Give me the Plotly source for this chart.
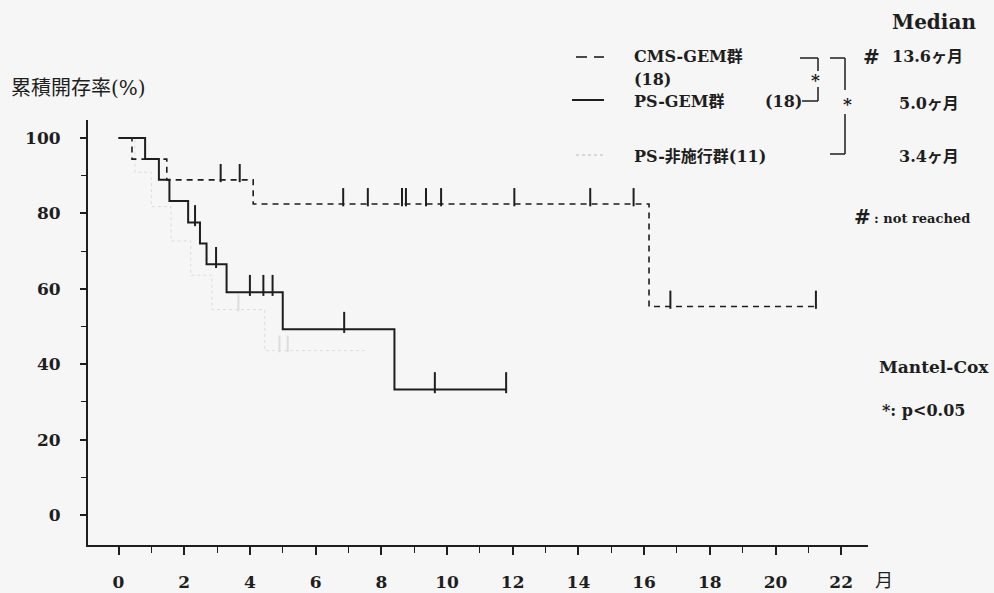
import plotly.graph_objects as go

# ---------------- data ----------------
# CMS-GEM群 (dashed)
cms_t = [0, 0.41, 1.47, 4.1, 16.15, 21.23]
cms_s = [100, 94.4, 88.9, 82.5, 55.3, 55.3]
cms_cens = [3.11, 3.69, 6.84, 7.59, 8.63, 8.75, 9.36, 9.82, 12.05, 14.36, 15.68, 16.8, 21.23]

# PS-GEM群 (solid)
psg_t = [0, 0.81, 1.23, 1.55, 2.12, 2.48, 2.68, 3.29, 5.0, 8.4, 11.8]
psg_s = [100, 94.4, 88.9, 83.3, 77.6, 72.0, 66.5, 59.1, 49.3, 33.3, 33.3]
psg_cens = [2.33, 2.97, 4.0, 4.41, 4.69, 6.87, 9.63, 11.8]

# PS-非施行群 (dotted, very faint)
psn_t = [0, 0.5, 1.0, 1.6, 2.2, 2.84, 4.45, 7.56]
psn_s = [100, 90.9, 81.8, 72.7, 63.6, 54.5, 43.6, 43.6]
psn_cens = [3.65, 4.9, 5.15]

x_ticks = [0, 2, 4, 6, 8, 10, 12, 14, 16, 18, 20, 22]
y_ticks = [0, 20, 40, 60, 80, 100]

W, H = 994, 593
INK = "#1e1e1e"
FONT = "DejaVu Serif, Noto Sans CJK JP, serif"


def step_value(ts, ss, t):
    v = ss[0]
    for ti, si in zip(ts, ss):
        if ti <= t:
            v = si
    return v


fig = go.Figure()


def add_curve(ts, ss, cens, dash, width, color, cens_size):
    fig.add_trace(go.Scatter(x=ts, y=ss, mode="lines", line_shape="hv",
                             line=dict(color=color, width=width, dash=dash),
                             hoverinfo="skip", showlegend=False))
    cy = [step_value(ts, ss, c) + 1.8 for c in cens]
    fig.add_trace(go.Scatter(x=cens, y=cy, mode="markers",
                             marker=dict(symbol="line-ns", size=cens_size,
                                         line=dict(color=color, width=2)),
                             hoverinfo="skip", showlegend=False))


add_curve(psn_t, psn_s, psn_cens, "dot", 1, "#dcdcdc", 12)
add_curve(cms_t, cms_s, cms_cens, "6px,5px", 1.6, INK, 13)
add_curve(psg_t, psg_s, psg_cens, "solid", 2, INK, 15)

# axis geometry (pixels -> paper)
x0px, xs = 118.5, 32.85
y100px, ys = 138.0, 3.77
ax_left, ax_right, ax_bottom, ax_top = 88, 868, 545, 120

xr = [(ax_left - x0px) / xs, (ax_right - x0px) / xs]
yr = [100 - (ax_bottom - y100px) / ys, 100 + (y100px - ax_top) / ys]

tickfont = dict(size=17, family=FONT, color=INK, weight="bold")

fig.update_layout(
    width=W, height=H,
    margin=dict(l=0, r=0, t=0, b=0),
    paper_bgcolor="#f6f6f6", plot_bgcolor="#f6f6f6",
    font=dict(family=FONT, color=INK),
    xaxis=dict(domain=[ax_left / W, ax_right / W], range=xr,
               showgrid=False, zeroline=False, showline=True,
               linecolor=INK, linewidth=2,
               tickvals=x_ticks, ticktext=[str(v) for v in x_ticks],
               ticks="outside", ticklen=8, tickwidth=1.5, tickcolor=INK,
               minor=dict(dtick=1, ticks="outside", ticklen=6, tickwidth=1.2,
                          tickcolor=INK, showgrid=False),
               ticklabelstandoff=13,
               tickfont=tickfont),
    yaxis=dict(domain=[1 - ax_bottom / H, 1 - ax_top / H], range=yr,
               showgrid=False, zeroline=False, showline=True,
               linecolor=INK, linewidth=2,
               tickvals=y_ticks, ticktext=[str(v) for v in y_ticks],
               ticks="outside", ticklen=6, tickwidth=1.5, tickcolor=INK,
               minor=dict(dtick=10, ticks="outside", ticklen=5, tickwidth=1.2,
                          tickcolor=INK, showgrid=False),
               ticklabelstandoff=16,
               tickfont=tickfont),
)


def px(x):
    return x / W


def py(y):
    return 1 - y / H


def text(x, y, s, size=16, anchor="left", bold=True):
    fig.add_annotation(x=px(x), y=py(y), xref="paper", yref="paper", text=s,
                       showarrow=False, xanchor=anchor, yanchor="middle",
                       font=dict(size=size, family=FONT, color=INK,
                                 weight="bold" if bold else "normal"))


def seg(x1, y1, x2, y2, width=1.5, dash="solid", color=INK):
    fig.add_shape(type="line", xref="paper", yref="paper",
                  x0=px(x1), y0=py(y1), x1=px(x2), y1=py(y2),
                  line=dict(color=color, width=width, dash=dash))


# titles
text(9, 88, "累積開存率(%)", 20, bold=False)
text(884, 580, "月", 18, "center", bold=False)

# legend
seg(576, 57, 587, 57, 1.6)
seg(594, 57, 604, 57, 1.6)
text(632, 56, "CMS-GEM群", 16)
text(632, 79, "(18)", 16)
seg(572, 100, 604, 100, 2)
text(632, 101, "PS-GEM群", 16)
text(763, 101, "(18)", 16)
seg(802, 101, 818, 101)

# brackets
seg(800, 58, 818, 58)
seg(818, 58, 818, 71)
text(815, 80, "*", 17, "center")
seg(818, 87, 818, 101)

seg(830, 58, 845, 58)
seg(845, 58, 845, 90)
text(847, 104, "*", 17, "center")
seg(845, 114, 845, 154)
seg(830, 154, 845, 154)

seg(576, 155, 604, 155, 1, "dot", "#b8b8b8")
text(632, 156, "PS-非施行群(11)", 16)

# medians
text(890, 22, "Median", 20)
text(871, 57, "#", 20, "center")
text(890, 57, "13.6ヶ月", 16)
text(897, 103, "5.0ヶ月", 16)
text(897, 156, "3.4ヶ月", 16)

text(862, 217, "#", 20, "center")
text(872, 218, ": not reached", 13)

text(877, 367, "Mantel-Cox", 17)
text(880, 410, "*: p<0.05", 16)

fig.write_html("out.html", config={"displayModeBar": False},
               post_script="document.body.style.margin='0';")
